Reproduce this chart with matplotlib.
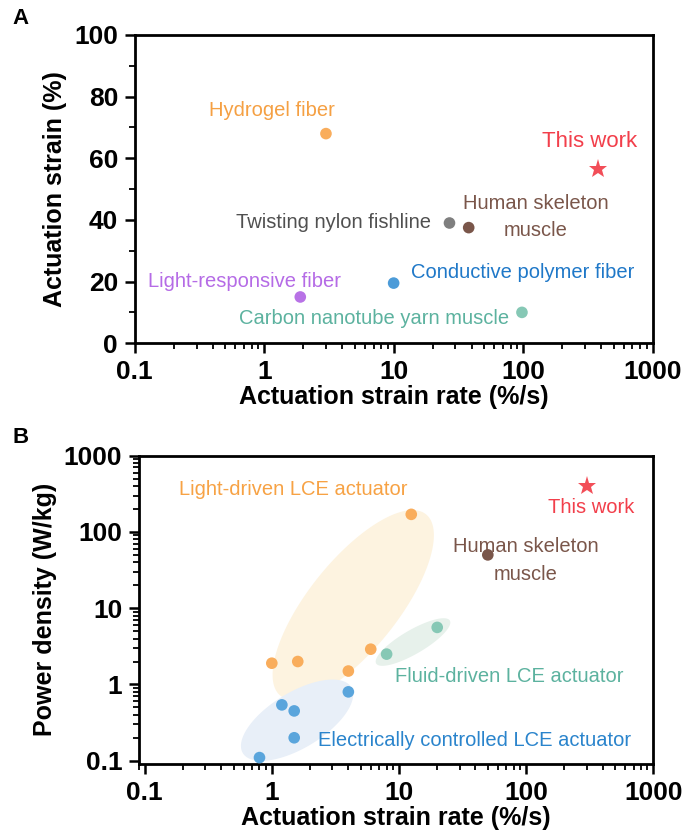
import matplotlib
matplotlib.use('Agg')
import matplotlib.pyplot as plt
from matplotlib.ticker import LogLocator, NullFormatter, MultipleLocator, FixedLocator
import numpy as np

plt.rcParams['font.family'] = ['Liberation Sans', 'DejaVu Sans']

# ---------- data, panel A ----------
a_names = ['Hydrogel fiber', 'Twisting nylon fishline', 'Human skeleton muscle',
           'Conductive polymer fiber', 'Light-responsive fiber', 'Carbon nanotube yarn muscle']
a_rate = [3.0, 27, 38, 10, 1.9, 98]
a_strain = [68, 39, 37.5, 19.5, 15, 10]
a_this_rate = [380]
a_this_strain = [56.5]

# ---------- data, panel B ----------
light_rate = [1.0, 1.6, 4.0, 6.0, 12.5]
light_power = [1.9, 2.0, 1.5, 2.9, 170]
fluid_rate = [8.0, 20]
fluid_power = [2.5, 5.6]
elec_rate = [0.8, 1.2, 1.5, 1.5, 4.0]
elec_power = [0.11, 0.54, 0.45, 0.2, 0.8]
human_rate = [50]
human_power = [50]
this_rate = [300]
this_power = [400]

# colours
c_orange = '#F9AD5C'
c_red = '#F24E58'
c_gray = '#7F7F7F'
c_brown = '#7A564A'
c_blue = '#4C9BD8'
c_purple = '#B872E6'
c_teal = '#86C8B5'
a_colors = [c_orange, c_gray, c_brown, c_blue, c_purple, c_teal]

fig = plt.figure(figsize=(6.84, 8.33), dpi=100)

TICK_FS = 19
LABEL_FS = 18


def style_axes(ax):
    for s in ax.spines.values():
        s.set_linewidth(2)
    ax.tick_params(which='major', direction='out', length=7, width=1.8,
                   labelsize=TICK_FS, top=False, right=False, pad=5)
    ax.tick_params(which='minor', direction='out', length=4, width=1.3,
                   top=False, right=False)
    ax.set_xscale('log')
    ax.xaxis.set_major_locator(FixedLocator([0.1, 1, 10, 100, 1000]))
    ax.xaxis.set_minor_locator(LogLocator(base=10, subs=np.arange(2, 10), numticks=20))
    ax.xaxis.set_minor_formatter(NullFormatter())
    ax.set_xticklabels(['0.1', '1', '10', '100', '1000'], fontweight='bold', fontsize=TICK_FS)
    ax.set_xlabel('Actuation strain rate (%/s)', fontsize=LABEL_FS, fontweight='bold', labelpad=1)


# ---------- panel A ----------
axA = fig.add_axes([0.197, 0.588, 0.757, 0.370])
axA.set_xlim(0.1, 1000)
axA.set_ylim(0, 100)
style_axes(axA)
axA.yaxis.set_major_locator(MultipleLocator(20))
axA.yaxis.set_minor_locator(MultipleLocator(10))
axA.set_yticks([0, 20, 40, 60, 80, 100])
axA.set_yticklabels(['0', '20', '40', '60', '80', '100'], fontweight='bold', fontsize=TICK_FS)
axA.set_ylabel('Actuation strain (%)', fontsize=LABEL_FS, fontweight='bold', labelpad=5)

axA.scatter(a_rate, a_strain, s=70, c=a_colors, edgecolors='none', zorder=3)
axA.plot(a_this_rate, a_this_strain, marker='*', color=c_red, markersize=14,
         linestyle='none', markeredgewidth=0, zorder=3)

txt = dict(fontsize=14.5, ha='center', va='center')
axA.text(1.14, 75.6, 'Hydrogel fiber', color='#F5A043', **txt)
axA.text(325, 65.3, 'This work', color='#F23F4B', fontsize=16, ha='center', va='center')
axA.text(19.5, 39.3, 'Twisting nylon fishline', color='#505050', fontsize=14.5,
         ha='right', va='center')
axA.text(126, 40.9, 'Human skeleton\nmuscle', color=c_brown, linespacing=1.5, **txt)
axA.text(100, 23.0, 'Conductive polymer fiber', color='#1F78C8', **txt)
axA.text(0.71, 20.1, 'Light-responsive fiber', color='#B56BE6', **txt)
axA.text(7.0, 8.1, 'Carbon nanotube yarn muscle', color='#5CB29F', **txt)

# ---------- panel B ----------
axB = fig.add_axes([0.203, 0.083, 0.752, 0.370])
axB.set_xlim(0.09, 1000)
axB.set_ylim(0.091, 1000)
style_axes(axB)
axB.set_yscale('log')
axB.yaxis.set_major_locator(FixedLocator([0.1, 1, 10, 100, 1000]))
axB.yaxis.set_minor_locator(LogLocator(base=10, subs=np.arange(2, 10), numticks=20))
axB.yaxis.set_minor_formatter(NullFormatter())
axB.set_yticklabels(['0.1', '1', '10', '100', '1000'], fontweight='bold', fontsize=TICK_FS)
axB.set_ylabel('Power density (W/kg)', fontsize=LABEL_FS, fontweight='bold', labelpad=5)


def log_ellipse(ax, cx, cy, a, b, ang, color, px_x=128.5, px_y=76.5):
    # ellipse drawn in screen-like (pixel) space on log axes
    t = np.linspace(0, 2 * np.pi, 200)
    u = a * np.cos(t)
    v = b * np.sin(t)
    r = np.deg2rad(ang)
    dx = (u * np.cos(r) - v * np.sin(r)) / px_x
    dy = (u * np.sin(r) + v * np.cos(r)) / px_y
    xs = 10 ** (np.log10(cx) + dx)
    ys = 10 ** (np.log10(cy) + dy)
    ax.fill(xs, ys, color=color, lw=0, zorder=1)


log_ellipse(axB, 4.37, 11.0, 117, 45, 51, '#FDF3E0')
log_ellipse(axB, 1.58, 0.34, 64, 28, 31, '#E8EFF8')
log_ellipse(axB, 12.9, 3.6, 43, 12, 30, '#E7F1EB')

axB.scatter(light_rate, light_power, s=70, color=c_orange, edgecolors='none', zorder=3)
axB.scatter(fluid_rate, fluid_power, s=70, color=c_teal, edgecolors='none', zorder=3)
axB.scatter(elec_rate, elec_power, s=70, color='#5AA5DC', edgecolors='none', zorder=3)
axB.scatter(human_rate, human_power, s=70, color=c_brown, edgecolors='none', zorder=3)
axB.plot(this_rate, this_power, marker='*', color=c_red, markersize=14,
         linestyle='none', markeredgewidth=0, zorder=3)

axB.text(1.48, 362, 'Light-driven LCE actuator', color='#F7A244', **txt)
axB.text(323, 211, 'This work', color='#F23F4B', **txt)
axB.text(100, 42, 'Human skeleton\nmuscle', color=c_brown, linespacing=1.6, **txt)
axB.text(74, 1.27, 'Fluid-driven LCE actuator', color='#5CB29F', **txt)
axB.text(39, 0.187, 'Electrically controlled LCE actuator', color='#2A84CC', **txt)

fig.text(0.018, 0.978, 'A', fontsize=16, fontweight='bold', va='center')
fig.text(0.018, 0.475, 'B', fontsize=16, fontweight='bold', va='center')

fig.savefig('out.png', dpi=100)
